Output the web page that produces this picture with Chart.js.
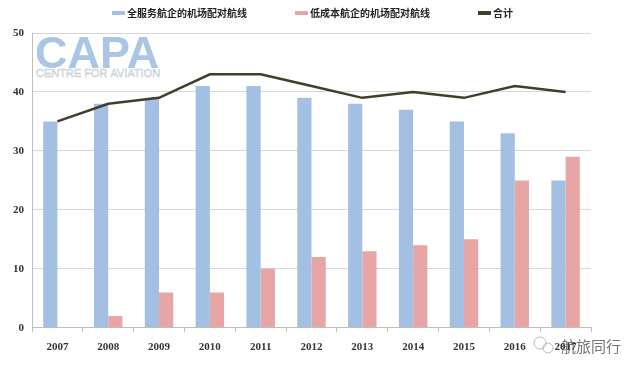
<!DOCTYPE html>
<html>
<head>
<meta charset="utf-8">
<script src="https://cdn.jsdelivr.net/npm/chart.js@4"></script>
<style>
  html, body { margin: 0; padding: 0; background: #fff; }
  #wrap { width: 640px; height: 365px; position: relative; }
</style>
</head>
<body>
<div id="wrap"><canvas id="myChart"></canvas></div>
<script>
// data
const years = ["2007", "2008", "2009", "2010", "2011", "2012", "2013", "2014", "2015", "2016", "2017"];
const fullService = [35, 38, 39, 41, 41, 39, 38, 37, 35, 33, 25];
const lowCost = [0, 2, 6, 6, 10, 12, 13, 14, 15, 25, 29];
const total = [35, 38, 39, 43, 43, 41, 39, 40, 39, 41, 40];
const yTicks = [0, 10, 20, 30, 40, 50];

// legend drawn by hand so the items sit spread out along the top line
const topLegend = {
  id: "topLegend",
  afterDraw(chart) {
    const ctx = chart.ctx;
    ctx.save();
    ctx.font = "bold 10px 'Noto Sans CJK SC', sans-serif";
    ctx.textBaseline = "middle";
    let x = 112;
    const y = 13;
    chart.data.datasets.forEach((ds) => {
      ctx.fillStyle = ds.type === "line" ? ds.borderColor : ds.backgroundColor;
      ctx.fillRect(x, y - 2, 13, 4);
      ctx.fillStyle = "#222";
      ctx.fillText(ds.label, x + 15, y);
      x += 15 + ctx.measureText(ds.label).width + 48;
    });
    ctx.restore();
  },
};

// watermark: CAPA logo + wechat tag
const watermark = {
  id: "watermark",
  beforeDatasetsDraw(chart) {
    const ctx = chart.ctx;
    const area = chart.chartArea;
    ctx.save();
    ctx.fillStyle = "#abc6e4";
    ctx.font = "bold 45px 'Liberation Sans', Arial, sans-serif";
    ctx.textBaseline = "alphabetic";
    ctx.fillText("CAPA", area.left + 3, area.top + 35);
    ctx.strokeStyle = "#c3cbd6";
    ctx.lineWidth = 0.6;
    ctx.font = "11px 'Liberation Sans', Arial, sans-serif";
    ctx.strokeText("CENTRE FOR AVIATION", area.left + 4, area.top + 44);
    ctx.restore();
  },
  afterDraw(chart) {
    const ctx = chart.ctx;
    ctx.save();
    ctx.fillStyle = "rgba(90, 90, 90, 0.85)";
    ctx.font = "15px 'Noto Sans CJK SC', sans-serif";
    ctx.textBaseline = "middle";
    ctx.fillText("航旅同行", 561, 346);
    ctx.strokeStyle = "rgba(160, 160, 160, 0.7)";
    ctx.lineWidth = 1;
    ctx.beginPath();
    ctx.arc(540, 343, 6, 0, Math.PI * 2);
    ctx.stroke();
    ctx.beginPath();
    ctx.arc(548, 348, 5, 0, Math.PI * 2);
    ctx.stroke();
    ctx.restore();
  },
};

const data = {
  labels: years,
  datasets: [
    {
      type: "bar",
      label: "全服务航企的机场配对航线",
      data: fullService,
      backgroundColor: "#a3c0e2",
      borderWidth: 0,
      order: 2,
    },
    {
      type: "bar",
      label: "低成本航企的机场配对航线",
      data: lowCost,
      backgroundColor: "#e8a5a5",
      borderWidth: 0,
      order: 2,
    },
    {
      type: "line",
      label: "合计",
      data: total,
      borderColor: "#3f3f2a",
      backgroundColor: "#3f3f2a",
      borderWidth: 2.5,
      pointRadius: 0,
      tension: 0,
      order: 1,
    },
  ],
};

const config = {
  type: "bar",
  data,
  plugins: [watermark, topLegend],
  options: {
    responsive: true,
    maintainAspectRatio: false,
    animation: false,
    layout: { padding: { left: 5, right: 49, top: 33, bottom: 2 } },
    datasets: {
      bar: { categoryPercentage: 0.56, barPercentage: 1.0 },
    },
    plugins: {
      legend: { display: false },
      tooltip: { enabled: false },
    },
    scales: {
      x: {
        offset: true,
        grid: {
          offset: true,
          drawOnChartArea: false,
          drawTicks: true,
          tickLength: 4,
          color: "#bfbfbf",
        },
        border: { color: "#bfbfbf" },
        ticks: {
          color: "#333",
          padding: 9,
          font: { family: "'Liberation Serif', serif", size: 11, weight: "bold" },
        },
      },
      y: {
        min: 0,
        max: 50,
        afterBuildTicks: (axis) => {
          axis.ticks = yTicks.map((v) => ({ value: v }));
        },
        grid: { color: "#d6d6d6", drawTicks: false },
        border: { color: "#bfbfbf" },
        ticks: {
          color: "#333",
          padding: 8,
          font: { family: "'Liberation Serif', serif", size: 11, weight: "bold" },
        },
      },
    },
  },
};

const myChart = new Chart(document.getElementById("myChart"), config);
</script>
</body>
</html>
